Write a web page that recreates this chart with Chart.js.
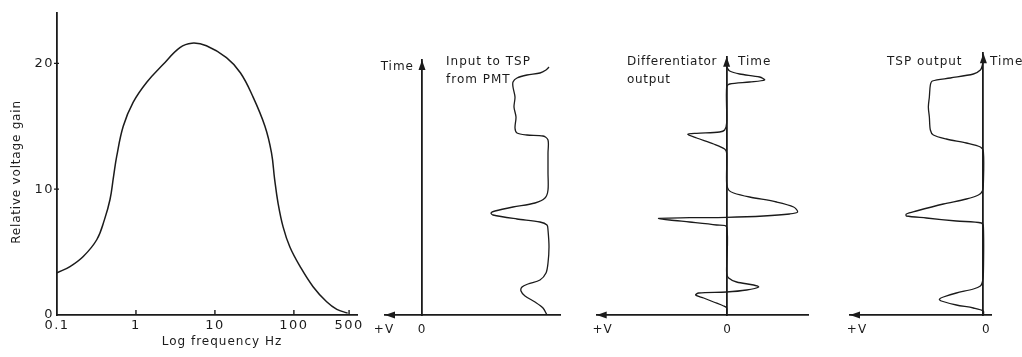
<!DOCTYPE html>
<html>
<head>
<meta charset="utf-8">
<script src="https://cdn.jsdelivr.net/npm/chart.js@4.4.1/dist/chart.umd.min.js"></script>
<style>
  html, body { margin: 0; padding: 0; background: #fff; }
  #wrap { position: relative; width: 1022px; height: 357px; overflow: hidden; background: #fff; }
  #wrap canvas { position: absolute; top: 0; }
</style>
</head>
<body>
<div id="wrap">
  <canvas id="gain" width="370" height="357" style="left:0px"></canvas>
  <canvas id="input" width="230" height="357" style="left:360px"></canvas>
  <canvas id="diff" width="220" height="357" style="left:590px"></canvas>
  <canvas id="tsp" width="212" height="357" style="left:810px"></canvas>
</div>
<script>
// Frequency response of the TSP amplifier
const freqHz  = [0.1, 0.146, 0.215, 0.32, 0.4, 0.47, 0.52, 0.57, 0.69, 0.92, 1.37, 2.2, 3.6, 5.1, 7.8, 14, 21, 30, 43, 52, 57, 63, 73, 89, 120, 175, 260, 350, 480];
const gainRel = [3.35, 3.85, 4.65, 6.0, 7.6, 9.2, 11.0, 12.6, 15.0, 16.9, 18.5, 19.9, 21.25, 21.6, 21.4, 20.45, 19.25, 17.4, 15.0, 12.9, 10.8, 8.9, 7.0, 5.4, 3.85, 2.25, 1.05, 0.45, 0.15];
const freqTicks = [0.1, 1, 10, 100, 500];
const gainTicks = [0, 10, 20];

// Waveforms against time (arbitrary units); voltage positive to the left
const inputTime  = [0, 0.7, 1.3, 1.9, 2.4, 2.8, 3.1, 3.5, 4.2, 5.2, 6.8, 8.5, 9.0, 9.3, 9.6, 10.0, 10.2, 10.4, 10.8, 11.2, 11.7, 12.5, 14.2, 16.2, 17.5, 17.9, 18.0, 18.2, 18.7, 19.8, 20.8, 21.8, 22.8, 23.3, 23.7, 24.0, 24.2, 24.5, 24.8];
const inputVolts = [-12.5, -12.1, -11.3, -10.3, -9.9, -10.0, -10.6, -11.8, -12.4, -12.6, -12.7, -12.6, -12.5, -11.8, -9.5, -7.1, -6.9, -7.3, -9.1, -11.3, -12.3, -12.6, -12.6, -12.6, -12.6, -12.1, -10.5, -9.5, -9.3, -9.4, -9.2, -9.3, -9.1, -9.1, -9.5, -10.5, -11.8, -12.4, -12.7];

const diffTime  = [0, 0.7, 0.9, 1.3, 1.7, 2.0, 2.2, 2.3, 2.5, 2.8, 3.0, 3.3, 3.7, 4.2, 8.8, 9.0, 9.3, 9.5, 9.67, 9.73, 9.77, 9.9, 10.1, 10.3, 10.8, 11.3, 11.8, 12.2, 12.5, 13.2, 16.2, 16.6, 17.1, 17.7, 18.07, 18.17, 18.3, 18.5, 19.2, 22.8, 23.1, 23.3, 23.5, 23.8, 24.1, 24.4, 24.8];
const diffVolts = [0, 0, 0.3, 1.3, 2.3, 3.1, 2.8, 0, -2.0, -3.2, -2.7, -1.0, -0.2, 0, 0, 1.0, 3.7, 5.7, 6.8, 3.7, 0, -3.7, -6.3, -7.1, -6.7, -5.0, -2.3, -0.7, -0.2, 0, 0, 0.2, 1.3, 3.0, 3.9, 3.0, 0.7, 0.2, 0, 0, -0.3, -2.3, -3.8, -3.3, -1.3, -0.3, 0];

const tspTime  = [0, 0.4, 0.7, 1.0, 1.4, 1.57, 1.8, 2.2, 2.6, 2.9, 3.3, 4.2, 8.8, 9.2, 9.4, 9.7, 9.9, 10.1, 10.4, 11.1, 11.6, 12.0, 12.4, 13.2, 16.3, 16.8, 17.2, 17.6, 18.0, 18.5, 19.8, 20.8, 21.8, 23.0, 23.4, 23.7, 24.1, 24.5, 25.0, 25.8];
const tspVolts = [0, 0, 1.0, 2.7, 4.2, 4.4, 4.0, 2.7, 1.0, 0.3, 0.1, 0, 0, 0.2, 2.7, 5.7, 7.7, 7.7, 6.7, 4.0, 1.7, 0.5, 0.1, 0, 0, 0.3, 1.7, 3.7, 5.0, 5.3, 5.4, 5.5, 5.4, 5.3, 5.1, 3.3, 1.0, 0.3, 0.1, 0];

const INK = '#1b1b1b';
const FONT = '"DejaVu Sans", sans-serif';

function putText(ctx, item) {
  ctx.save();
  ctx.font = (item.size || 12) + 'px ' + FONT;
  ctx.letterSpacing = (item.spacing != null ? item.spacing : 1) + 'px';
  ctx.fillStyle = INK;
  ctx.textAlign = item.align || 'left';
  ctx.textBaseline = 'middle';
  ctx.translate(item.x, item.y);
  if (item.rotate) ctx.rotate(item.rotate);
  ctx.fillText(item.text, 0, 0);
  ctx.restore();
}

// free text drawn on top of each chart
const freeText = {
  id: 'freeText',
  afterDraw(chart, args, opts) {
    (opts.items || []).forEach(it => putText(chart.ctx, it));
  }
};

// widened digits on the gain axes plus inward tick marks
const gainDecor = {
  id: 'gainDecor',
  beforeDraw(chart) { chart.ctx.letterSpacing = '1.5px'; },
  afterDraw(chart) {
    const {ctx} = chart;
    const xs = chart.scales.x, ys = chart.scales.y;
    ctx.save();
    ctx.letterSpacing = '0px';
    ctx.strokeStyle = INK;
    ctx.lineWidth = 1.4;
    ctx.beginPath();
    xs.ticks.slice(1).forEach(t => {
      const px = xs.getPixelForValue(t.value);
      ctx.moveTo(px, ys.bottom);
      ctx.lineTo(px, ys.bottom - 5);
    });
    ys.ticks.slice(1).forEach(t => {
      const py = ys.getPixelForValue(t.value);
      ctx.moveTo(xs.left - 3, py);
      ctx.lineTo(xs.left + 2, py);
    });
    ctx.stroke();
    ctx.restore();
  }
};

// arrow heads, "+V" and "0" under the voltage axis
const signalAxes = {
  id: 'signalAxes',
  afterDraw(chart, args, opts) {
    const {ctx} = chart;
    const xs = chart.scales.x, ys = chart.scales.y;
    const x0 = xs.getPixelForValue(0), y0 = ys.getPixelForValue(0);
    const tipX = xs.getPixelForValue(xs.max), tipY = ys.getPixelForValue(ys.max);
    ctx.save();
    ctx.fillStyle = INK;
    ctx.beginPath();
    ctx.moveTo(tipX, y0);
    ctx.lineTo(tipX + 10, y0 - 3.5);
    ctx.lineTo(tipX + 10, y0 + 3.5);
    ctx.closePath();
    ctx.fill();
    ctx.beginPath();
    ctx.moveTo(x0, tipY);
    ctx.lineTo(x0 - 3.5, tipY + 10);
    ctx.lineTo(x0 + 3.5, tipY + 10);
    ctx.closePath();
    ctx.fill();
    ctx.restore();
    putText(ctx, {text: '+V', x: tipX + (opts.plusDx || 0), y: y0 + 15, align: 'center'});
    putText(ctx, {text: '0', x: x0 + (opts.zeroDx || 0), y: y0 + 15, align: 'center'});
  }
};

const axisBorder = {display: true, color: INK, width: 1.8};

new Chart(document.getElementById('gain'), {
  type: 'line',
  data: {
    datasets: [{
      data: freqHz.map((f, i) => ({x: f, y: gainRel[i]})),
      borderColor: INK,
      borderWidth: 1.5,
      pointRadius: 0,
      tension: 0.4,
      fill: false
    }]
  },
  options: {
    responsive: false,
    animation: false,
    events: [],
    layout: {padding: {top: 13, right: 13, left: 0, bottom: 0}},
    plugins: {
      legend: {display: false},
      tooltip: {enabled: false},
      freeText: {items: [
        {text: 'Relative voltage gain', x: 17, y: 172, align: 'center', rotate: -Math.PI / 2, spacing: 0.8},
        {text: 'Log frequency Hz', x: 222, y: 342, align: 'center'}
      ]}
    },
    scales: {
      x: {
        type: 'logarithmic',
        min: 0.1,
        max: 630,
        grid: {display: false, drawTicks: false, tickLength: 0},
        border: axisBorder,
        afterBuildTicks: s => { s.ticks = freqTicks.map(v => ({value: v})); },
        afterFit: s => { s.height = 42; },
        ticks: {
          color: INK, padding: 3, autoSkip: false, maxRotation: 0,
          font: {family: FONT, size: 13},
          callback: v => String(v)
        }
      },
      y: {
        min: 0,
        max: 24,
        grid: {display: false, drawTicks: false, tickLength: 0},
        border: axisBorder,
        afterBuildTicks: s => { s.ticks = gainTicks.map(v => ({value: v})); },
        afterFit: s => { s.width = 57; },
        ticks: {
          color: INK, padding: 3,
          font: {family: FONT, size: 13},
          callback: v => String(v)
        }
      }
    }
  },
  plugins: [gainDecor, freeText]
});

function signalChart(id, times, volts, cfg) {
  return new Chart(document.getElementById(id), {
    type: 'line',
    data: {
      datasets: [{
        data: times.map((t, i) => ({x: volts[i], y: t})),
        borderColor: INK,
        borderWidth: 1.3,
        pointRadius: 0,
        tension: 0.3,
        fill: false
      }]
    },
    options: {
      responsive: false,
      animation: false,
      events: [],
      layout: {padding: cfg.pad},
      plugins: {
        legend: {display: false},
        tooltip: {enabled: false},
        freeText: {items: cfg.labels},
        signalAxes: {plusDx: cfg.plusDx, zeroDx: cfg.zeroDx}
      },
      scales: {
        x: {
          type: 'linear', reverse: true, min: cfg.vMin, max: cfg.vMax,
          grid: {display: false}, ticks: {display: false}, border: axisBorder,
          afterFit: s => { s.height = 0; }
        },
        y: {
          type: 'linear', position: {x: 0}, min: 0, max: cfg.tMax,
          grid: {display: false}, ticks: {display: false}, border: axisBorder,
          afterFit: s => { s.width = 0; }
        }
      }
    },
    plugins: [signalAxes, freeText]
  });
}

signalChart('input', inputTime, inputVolts, {
  pad: {left: 25, right: 30, top: 60, bottom: 42},
  vMin: -13.8, vMax: 3.7, tMax: 25.5, plusDx: -1, zeroDx: 0,
  labels: [
    {text: 'Time', x: 54, y: 67, align: 'right'},
    {text: 'Input to TSP', x: 86, y: 62},
    {text: 'from PMT', x: 86, y: 80}
  ]
});

signalChart('diff', diffTime, diffVolts, {
  pad: {left: 6.7, right: 1.7, top: 56.7, bottom: 42},
  vMin: -8.17, vMax: 13.0, tMax: 25.83, plusDx: 6, zeroDx: 1,
  labels: [
    {text: 'Differentiator', x: 37, y: 62, spacing: 0.7},
    {text: 'output', x: 37, y: 80, spacing: 0.7},
    {text: 'Time', x: 148, y: 62}
  ]
});

signalChart('tsp', tspTime, tspVolts, {
  pad: {left: 40, right: 30.3, top: 53.3, bottom: 42},
  vMin: -0.83, vMax: 13.33, tMax: 26.17, plusDx: 7, zeroDx: 3,
  labels: [
    {text: 'TSP output', x: 77, y: 62},
    {text: 'Time', x: 180, y: 62}
  ]
});
</script>
</body>
</html>
